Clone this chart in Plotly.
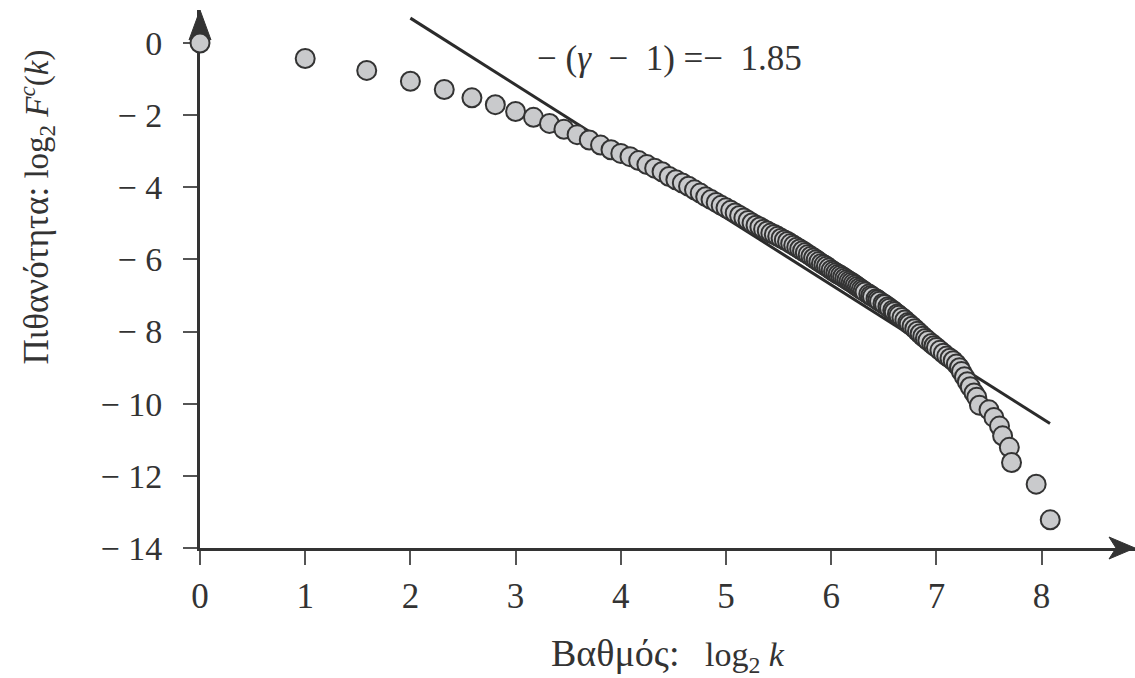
import numpy as np
import plotly.graph_objects as go

# ---- data ----
degree_k = [1, 2, 3, 4, 5, 6, 7, 8, 9, 10, 11, 12, 13, 14, 15, 16, 17, 18, 19, 20,
            21, 22, 23, 24, 25, 26, 27, 28, 29, 30, 31, 32, 33, 34, 35, 36, 37, 38, 39, 40,
            41, 42, 43, 44, 45, 46, 47, 48, 49, 50, 51, 52, 53, 54, 55, 56, 57, 58, 59, 60,
            61, 62, 63, 64, 65, 66, 67, 68, 69, 70, 71, 72, 73, 74, 75, 76, 77, 78, 79, 80,
            82, 83, 84, 86, 87, 88, 90, 91, 93, 94, 96, 97, 99, 100, 102, 104, 106, 107, 109, 111,
            113, 115, 117, 119, 121, 124, 126, 128, 131, 134, 137, 140, 143, 146, 149, 151, 154, 157, 160, 164,
            167, 170, 181, 187, 194, 198, 207, 210, 247, 271]
log2_fc = [0.0, -0.43, -0.76, -1.06, -1.29, -1.52, -1.71, -1.90, -2.06, -2.23,
           -2.39, -2.54, -2.69, -2.83, -2.96, -3.06, -3.15, -3.26, -3.37, -3.47,
           -3.57, -3.70, -3.79, -3.88, -3.97, -4.07, -4.16, -4.26, -4.34, -4.42,
           -4.50, -4.57, -4.64, -4.71, -4.78, -4.85, -4.92, -4.99, -5.05, -5.10,
           -5.16, -5.21, -5.27, -5.31, -5.36, -5.41, -5.46, -5.50, -5.56, -5.61,
           -5.66, -5.71, -5.76, -5.81, -5.86, -5.91, -5.96, -6.01, -6.06, -6.11,
           -6.15, -6.19, -6.24, -6.29, -6.33, -6.37, -6.41, -6.44, -6.48, -6.52,
           -6.56, -6.60, -6.63, -6.67, -6.71, -6.75, -6.79, -6.83, -6.86, -6.90,
           -6.96, -7.00, -7.03, -7.09, -7.12, -7.16, -7.22, -7.25, -7.31, -7.35,
           -7.41, -7.45, -7.51, -7.55, -7.61, -7.68, -7.75, -7.79, -7.85, -7.92,
           -7.99, -8.06, -8.13, -8.19, -8.25, -8.33, -8.39, -8.44, -8.52, -8.60,
           -8.68, -8.74, -8.81, -8.90, -9.00, -9.11, -9.25, -9.39, -9.53, -9.70,
           -9.82, -10.04, -10.17, -10.38, -10.62, -10.89, -11.21, -11.63, -12.23, -13.22]
fit_x = [2.0, 8.08]
fit_y = [0.69, -10.55]
x_ticks = [0, 1, 2, 3, 4, 5, 6, 7, 8]
x_tick_text = ["0", "1", "2", "3", "4", "5", "6", "7", "8"]
y_ticks = [0, -2, -4, -6, -8, -10, -12, -14]
y_tick_text = ["0", "− 2", "− 4", "− 6", "− 8", "− 10", "− 12", "− 14"]
slope_label = "− (<i>γ</i>  −  1) =−  1.85"
x_title = "<span style='font-size:38px'>Βαθμός:</span>   log<sub>2</sub> <i>k</i>"
y_title = "<span style='font-size:35px'>Πιθανότητα:</span> log<sub>2</sub> <i>F<sup>c</sup></i>(<i>k</i>)"

log2_k = np.log2(degree_k)

FONT = "Liberation Serif, Times New Roman, serif"
INK = "#333333"
X_MAX = 8.888
Y_MAX = 0.915
Y_MIN = -14

fig = go.Figure()
fig.add_trace(go.Scatter(
    x=fit_x, y=fit_y, mode="lines",
    line=dict(color="#2b2b2b", width=3),
    hoverinfo="skip", showlegend=False, cliponaxis=False,
))
fig.add_trace(go.Scatter(
    x=log2_k, y=log2_fc, mode="markers",
    marker=dict(size=19, color="#c9cacc", line=dict(color="#333333", width=2)),
    showlegend=False, cliponaxis=False,
))

fig.update_layout(
    width=1135, height=678,
    margin=dict(l=200, r=0, t=10, b=130),
    paper_bgcolor="white", plot_bgcolor="white",
    font=dict(family=FONT, size=34, color=INK),
    xaxis=dict(
        range=[0, X_MAX], showgrid=False, zeroline=False,
        showline=True, linecolor=INK, linewidth=3,
        tickmode="array", tickvals=x_ticks, ticktext=x_tick_text,
        ticks="outside", ticklen=14, tickwidth=1.5, tickcolor="#555555",
        ticklabelstandoff=1,
        tickfont=dict(family=FONT, size=35, color=INK),
        layer="below traces",
    ),
    yaxis=dict(
        range=[Y_MIN, Y_MAX], showgrid=False, zeroline=False,
        showline=True, linecolor=INK, linewidth=3,
        tickmode="array", tickvals=y_ticks, ticktext=y_tick_text,
        ticks="outside", ticklen=14, tickwidth=1.5, tickcolor="#555555",
        ticklabelstandoff=14,
        tickfont=dict(family=FONT, size=34, color=INK),
        layer="below traces",
    ),
    shapes=[
        # arrow head on the y axis
        dict(type="path", xref="paper", yref="paper", xsizemode="pixel", ysizemode="pixel",
             xanchor=0, yanchor=1,
             path="M0,0 L-11,-30 L0,-23 L11,-30 Z",
             fillcolor=INK, line=dict(color=INK, width=1), layer="below"),
        # arrow head on the x axis
        dict(type="path", xref="paper", yref="paper", xsizemode="pixel", ysizemode="pixel",
             xanchor=1, yanchor=0,
             path="M0,0 L-26,11 L-19,0 L-26,-11 Z",
             fillcolor=INK, line=dict(color=INK, width=1), layer="below"),
    ],
    annotations=[
        dict(text=slope_label, x=4.46, y=-0.42, xref="x", yref="y",
             showarrow=False, xanchor="center", yanchor="middle",
             font=dict(family=FONT, size=35, color=INK)),
        dict(text=x_title, x=0.5, y=-0.199, xref="paper", yref="paper",
             showarrow=False, xanchor="center", yanchor="middle",
             font=dict(family=FONT, size=34, color=INK)),
        dict(text=y_title, x=-0.1743, y=0.633, xref="paper", yref="paper",
             showarrow=False, xanchor="center", yanchor="middle", textangle=-90,
             font=dict(family=FONT, size=33, color=INK)),
    ],
)

fig.write_html("out.html")
